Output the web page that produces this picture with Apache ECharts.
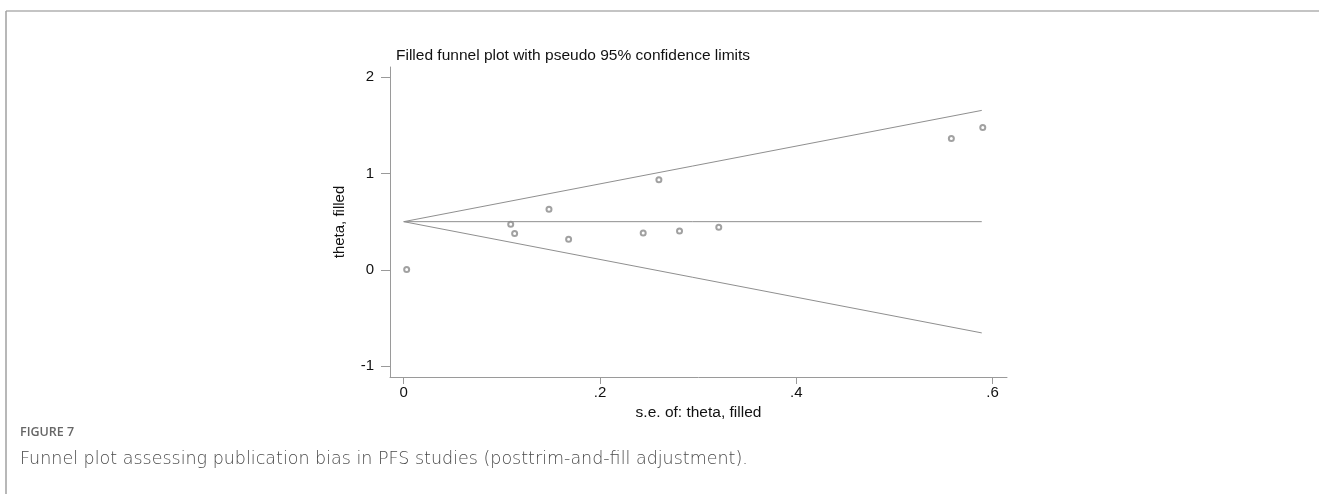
<!DOCTYPE html>
<html>
<head>
<meta charset="utf-8">
<script src="https://cdn.jsdelivr.net/npm/echarts@6/dist/echarts.min.js"></script>
<style>
html,body{margin:0;padding:0;background:#fff;}
#chart{width:1319px;height:494px;}
</style>
</head>
<body>
<div id="chart"></div>
<script>
// Study points: standard error (x) and theta (y)
const seValues    = [0.003, 0.109, 0.113, 0.148, 0.168, 0.244, 0.260, 0.281, 0.321, 0.558, 0.590];
const thetaValues = [0.003, 0.474, 0.376, 0.629, 0.318, 0.383, 0.936, 0.404, 0.442, 1.365, 1.479];
// Funnel lines (pseudo 95% limits) endpoints
const funnelSE    = [0, 0.589];
const upperLimit  = [0.5, 1.656];
const lowerLimit  = [0.5, -0.656];
const pooledTheta = [0.5, 0.5];
// Tick labels
const xTicks = [0, 0.2, 0.4, 0.6];
const xTickLabels = ['0', '.2', '.4', '.6'];
const yTicks = [-1, 0, 1, 2];
const yTickLabels = ['-1', '0', '1', '2'];

const chart = echarts.init(document.getElementById('chart'));
const font = 'Liberation Sans, Arial, Helvetica, sans-serif';
const axisGray = '#9a9a9a';
const lineGray = '#8f8f8f';

const pts = seValues.map((s, i) => [s, thetaValues[i]]);
const mk = (ys) => funnelSE.map((s, i) => [s, ys[i]]);

chart.setOption({
  animation: false,
  backgroundColor: '#fff',
  title: {
    text: 'Filled funnel plot with pseudo 95% confidence limits',
    left: 391, top: 43,
    textStyle: { fontFamily: font, fontSize: 15.5, fontWeight: 'normal', color: '#111' }
  },
  grid: { left: 390, right: 312, top: 67, bottom: 117 },
  xAxis: {
    type: 'value', min: -0.014, max: 0.6147,
    name: 's.e. of: theta, filled', nameLocation: 'middle', nameGap: 26,
    nameTextStyle: { fontFamily: font, fontSize: 15.5, color: '#111' },
    axisLine: { show: true, onZero: false, lineStyle: { color: axisGray, width: 1 } },
    axisTick: { show: true, length: 7, customValues: xTicks, lineStyle: { color: axisGray } },
    axisLabel: { customValues: xTicks, fontFamily: font, fontSize: 15, color: '#111', margin: 8,
      formatter: v => xTickLabels[xTicks.findIndex(t => Math.abs(t - v) < 1e-9)] },
    splitLine: { show: false }
  },
  yAxis: {
    type: 'value', min: -1.114, max: 2.107,
    name: 'theta, filled', nameLocation: 'middle', nameGap: 43, nameRotate: 90,
    nameTextStyle: { fontFamily: font, fontSize: 15, color: '#111' },
    axisLine: { show: true, onZero: false, lineStyle: { color: axisGray, width: 1 } },
    axisTick: { show: true, length: 9, customValues: yTicks, lineStyle: { color: axisGray } },
    axisLabel: { customValues: yTicks, fontFamily: font, fontSize: 15, color: '#111', margin: 16,
      formatter: v => yTickLabels[yTicks.findIndex(t => Math.abs(t - v) < 1e-9)] },
    splitLine: { show: false }
  },
  series: [
    { type: 'line', data: mk(upperLimit), symbol: 'none', lineStyle: { color: lineGray, width: 1 } },
    { type: 'line', data: mk(lowerLimit), symbol: 'none', lineStyle: { color: lineGray, width: 1 } },
    { type: 'line', data: mk(pooledTheta), symbol: 'none', lineStyle: { color: lineGray, width: 1 } },
    { type: 'scatter', data: pts, symbol: 'emptyCircle', symbolSize: 5,
      itemStyle: { color: '#8a8a8a', borderColor: '#8a8a8a', borderWidth: 0.8 } }
  ],
  graphic: [
    { type: 'line', shape: { x1: 6, y1: 11, x2: 1319, y2: 11 }, style: { stroke: '#b0b0b0', lineWidth: 1.5 } },
    { type: 'line', shape: { x1: 6, y1: 11, x2: 6, y2: 494 }, style: { stroke: '#a0a0a0', lineWidth: 1.5 } },
    { type: 'text', left: 20, top: 426, style: { text: 'FIGURE 7', font: '600 12.5px "Open Sans", sans-serif', fill: '#666' } },
    { type: 'text', left: 20, top: 450, style: { text: 'Funnel plot assessing publication bias in PFS studies (posttrim-and-fill adjustment).', font: '300 17.5px "DejaVu Sans", sans-serif', fill: '#4a4a4a' } }
  ]
});
</script>
</body>
</html>
